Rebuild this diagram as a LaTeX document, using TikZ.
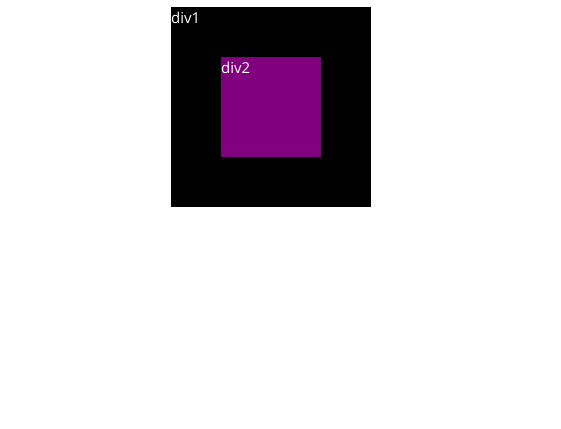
\documentclass[tikz,border=0pt]{standalone}
\usepackage{fontspec}
\setmainfont{Open Sans}
\definecolor{webpurple}{HTML}{800080}
\begin{document}
\begin{tikzpicture}[x=1pt,y=-1pt,
  lbl/.style={text=white,anchor=north west,inner sep=0pt,font=\fontsize{15}{18}\selectfont}]
\useasboundingbox[fill=white] (0,0) rectangle (561,428);
\fill[black] (171,7) rectangle (371,207);
\fill[webpurple] (221,57) rectangle (321,157);
\node[lbl] (d1) at (171,12) {div1};
\node[lbl] (d2) at (221,62) {div2};
\end{tikzpicture}
\end{document}
